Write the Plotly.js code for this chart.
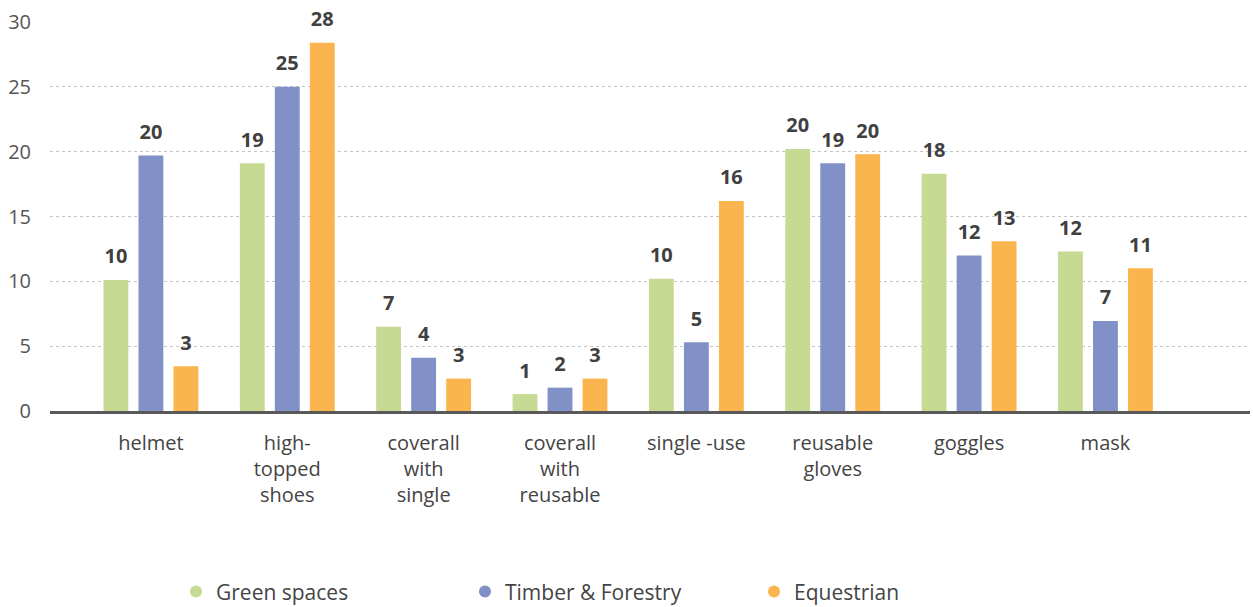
<!DOCTYPE html>
<html>
<head>
<meta charset="utf-8">
<script src="https://cdn.plot.ly/plotly-3.0.1.min.js"></script>
<style>
  html, body { margin: 0; padding: 0; background: #ffffff; }
  #chart { width: 1253px; height: 607px; }
</style>
</head>
<body>
<div id="chart"></div>
<script>
// Protective equipment worn, by sector
const categories = [
  'helmet',
  'high-<br>topped<br>shoes',
  'coverall<br>with<br>single',
  'coverall<br>with<br>reusable',
  'single -use',
  'reusable<br>gloves',
  'goggles',
  'mask'
];
const seriesNames = ['Green spaces', 'Timber & Forestry', 'Equestrian'];
const greenSpaces = [10.1, 19.1, 6.5, 1.3, 10.2, 20.2, 18.3, 12.3];
const timberForestry = [19.7, 25.0, 4.1, 1.8, 5.3, 19.1, 12.0, 6.95];
const equestrian = [3.45, 28.4, 2.5, 2.5, 16.2, 19.8, 13.1, 11.0];
const yTicks = [0, 5, 10, 15, 20, 25, 30];

const colors = ['#c6da93', '#8190c6', '#fbb54e'];
const values = [greenSpaces, timberForestry, equestrian];
const baseFont = 'Open Sans, Noto Sans, sans-serif';

const traces = [];
// bars
values.forEach(function (vals, i) {
  traces.push({
    type: 'bar',
    name: seriesNames[i],
    x: categories,
    y: vals,
    marker: { color: colors[i], line: { width: 0 } },
    showlegend: false,
    hoverinfo: 'x+y'
  });
});
// value labels, grouped alongside the bars
values.forEach(function (vals, i) {
  traces.push({
    type: 'scatter',
    mode: 'markers+text',
    name: seriesNames[i],
    x: categories,
    y: vals,
    alignmentgroup: 'labels',
    offsetgroup: 'label' + i,
    marker: { size: 17, opacity: 0, color: colors[i] },
    texttemplate: '%{y:.0f}',
    textposition: 'top center',
    cliponaxis: false,
    textfont: { family: baseFont, size: 20, color: '#404040', weight: 700 },
    showlegend: false,
    hoverinfo: 'skip'
  });
});
// round legend markers for each series (on a hidden overlay axis pair)
seriesNames.forEach(function (name, i) {
  traces.push({
    type: 'scatter',
    mode: 'markers',
    name: name,
    x: [null],
    y: [null],
    xaxis: 'x2',
    yaxis: 'y2',
    marker: { color: colors[i], size: 15, symbol: 'circle' },
    showlegend: true,
    hoverinfo: 'skip'
  });
});

const layout = {
  width: 1253,
  height: 607,
  margin: { l: 50, r: 3, t: 22, b: 195.5 },
  paper_bgcolor: '#ffffff',
  plot_bgcolor: '#ffffff',
  barmode: 'group',
  bargap: 0.23,
  bargroupgap: 0.29,
  scattermode: 'group',
  scattergap: 0.23,
  font: { family: baseFont, color: '#444444' },
  xaxis: {
    type: 'category',
    range: [-0.74, 8.06],
    showgrid: false,
    zeroline: false,
    showline: true,
    linecolor: '#595959',
    linewidth: 3,
    ticks: '',
    ticklabelstandoff: 12,
    tickfont: { family: baseFont, size: 20, color: '#444444' },
    fixedrange: true
  },
  yaxis: {
    range: [0, 30],
    tickvals: yTicks,
    ticktext: yTicks.map(String),
    showgrid: true,
    gridcolor: '#c4c4c4',
    griddash: 'dot',
    gridwidth: 1,
    zeroline: false,
    showline: false,
    ticks: '',
    ticklabelstandoff: 18,
    tickfont: { family: baseFont, size: 20, color: '#555555' },
    fixedrange: true
  },
  xaxis2: { overlaying: 'x', visible: false, fixedrange: true },
  yaxis2: { overlaying: 'y', visible: false, fixedrange: true },
  legend: {
    orientation: 'h',
    x: 0.105,
    xanchor: 'left',
    yref: 'container',
    y: 0.025,
    yanchor: 'middle',
    entrywidth: 244,
    font: { family: baseFont, size: 21, color: '#444444' },
    itemsizing: 'constant'
  },
  showlegend: true
};

Plotly.newPlot('chart', traces, layout, { displayModeBar: false, staticPlot: true });
</script>
</body>
</html>
